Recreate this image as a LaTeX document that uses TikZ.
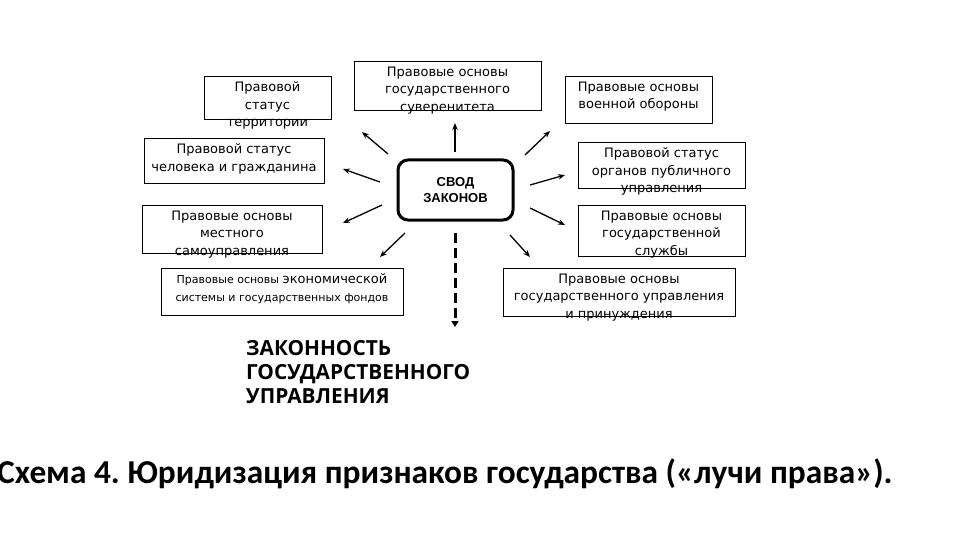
\documentclass[tikz,border=0pt]{standalone}
\usepackage{fontspec}
\setmainfont{DejaVu Sans}
\newfontfamily\svodfont{Liberation Sans}
\newfontfamily\headfont{Open Sans}
\newfontfamily\capfont{Carlito}
\usetikzlibrary{arrows.meta}

\begin{document}
\frenchspacing
\begin{tikzpicture}[
        x=1pt, y=-1pt,
        lawbox/.style={rectangle, draw, line width=0.9pt, inner sep=0pt},
        lawtxt/.style={align=center, inner sep=0pt, anchor=north, yshift=-6pt, font=\fontsize{13}{17.5}\selectfont, execute at begin node=\strut},
        ray/.style={-{Stealth[length=7pt, width=5.5pt]}, line width=1.3pt},
    ]
        \useasboundingbox (0,0) rectangle (960,540);

        % Top row
        \node[lawbox, minimum width=127pt, minimum height=43pt] (terr) at (267.5,97.5) {};
        \node[lawtxt] (terr-t) at (terr.north) {Правовой\\статус\\территории};
        \node[lawbox, minimum width=187pt, minimum height=49pt] (suv) at (447.5,85.5) {};
        \node[lawtxt] (suv-t) at (suv.north) {Правовые основы\\государственного\\суверенитета};
        \node[lawbox, minimum width=147pt, minimum height=47pt] (obor) at (638.5,99.5) {};
        \node[lawtxt] (obor-t) at (obor.north) {Правовые основы\\военной обороны};

        % Left column
        \node[lawbox, minimum width=180pt, minimum height=45pt] (chel) at (234,160.5) {};
        \node[lawtxt] (chel-t) at (chel.north) {Правовой статус\\человека и гражданина};
        \node[lawbox, minimum width=180pt, minimum height=48pt] (mest) at (232,229) {};
        \node[lawtxt] (mest-t) at (mest.north) {Правовые основы\\местного\\самоуправления};
        \node[lawbox, minimum width=242pt, minimum height=47pt] (econ) at (282,291.5) {};
        \node[lawtxt] (econ-t) at (econ.north) {{\fontsize{11}{17.5}\selectfont Правовые основы }{\fontsize{13}{17.5}\selectfont экономической}\\{\fontsize{11}{17.5}\selectfont системы и государственных фондов}};

        % Right column
        \node[lawbox, minimum width=167pt, minimum height=46pt] (organ) at (661.5,165) {};
        \node[lawtxt] (organ-t) at (organ.north) {Правовой статус\\органов публичного\\управления};
        \node[lawbox, minimum width=167pt, minimum height=51pt] (sluzh) at (661.5,230.5) {};
        \node[lawtxt] (sluzh-t) at (sluzh.north) {Правовые основы\\государственной\\службы};
        \node[lawbox, minimum width=232pt, minimum height=48pt] (upr) at (619,292) {};
        \node[lawtxt] (upr-t) at (upr.north) {Правовые основы\\государственного управления\\и принуждения};

        % Centre
        \node[draw, line width=3pt, rounded corners=10pt, minimum width=115pt, minimum height=60pt] (svod) at (455.5,190) {};
        \node[align=center, inner sep=0pt, anchor=base, font=\svodfont\bfseries\fontsize{13}{16}\selectfont] (svod-t) at (455.5,202) {СВОД\\ЗАКОНОВ};

        % Result and caption
        \node[anchor=base west, align=left, inner sep=0pt, font=\headfont\bfseries\fontsize{20.8}{24}\selectfont] (zak) at (246,403) {ЗАКОННОСТЬ\\ГОСУДАРСТВЕННОГО\\УПРАВЛЕНИЯ};
        \node[anchor=base west, inner sep=0pt, font=\capfont\bfseries\fontsize{33.4}{40}\selectfont] (cap) at (-3,483) {Схема 4. Юридизация признаков государства («лучи права»).};

        % Ray ends
        \coordinate (s1) at (455,152); \coordinate (e1) at (455,123);
        \coordinate (s2) at (388,154); \coordinate (e2) at (362,132);
        \coordinate (s3) at (380,182); \coordinate (e3) at (343,169);
        \coordinate (s4) at (525,155); \coordinate (e4) at (550,131);
        \coordinate (s5) at (530,185); \coordinate (e5) at (565,175);
        \coordinate (s6) at (530,208); \coordinate (e6) at (565,225);
        \coordinate (s7) at (510,235); \coordinate (e7) at (530,257);
        \coordinate (s8) at (382,205); \coordinate (e8) at (343,223);
        \coordinate (s9) at (405,233); \coordinate (e9) at (380,257);
        \coordinate (d1) at (455,233); \coordinate (d2) at (455,327);

        % Rays
        \draw[ray] (s1) -- (e1);
        \draw[ray] (s2) -- (e2);
        \draw[ray] (s3) -- (e3);
        \draw[ray] (s4) -- (e4);
        \draw[ray] (s5) -- (e5);
        \draw[ray] (s6) -- (e6);
        \draw[ray] (s7) -- (e7);
        \draw[ray] (s8) -- (e8);
        \draw[ray] (s9) -- (e9);
        \draw[line width=3pt, dash pattern=on 10pt off 5pt, -{Triangle[length=6pt, width=7pt]}] (d1) -- (d2);

    \end{tikzpicture}
\end{document}
